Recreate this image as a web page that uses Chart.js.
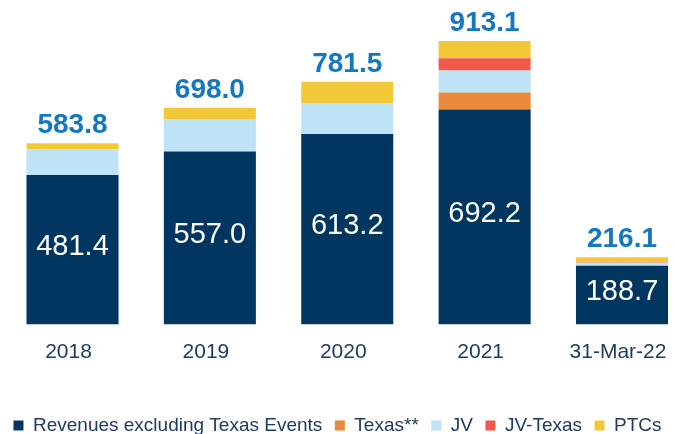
<!DOCTYPE html>
<html>
<head>
<meta charset="utf-8">
<script src="https://cdn.jsdelivr.net/npm/chart.js@4/dist/chart.umd.min.js"></script>
<style>
html,body{margin:0;padding:0;background:#fff;}
#wrap{width:675px;height:434px;position:relative;}
</style>
</head>
<body>
<div id="wrap"><canvas id="c" width="675" height="434"></canvas></div>
<script>
const categories = ['2018', '2019', '2020', '2021', '31-Mar-22'];
const revenuesExTexas = [481.4, 557.0, 613.2, 692.2, 188.7];
const texas = [0, 0, 0, 54.9, 0];
const jv = [82.4, 103.6, 98.3, 71.2, 9.8];
const jvTexas = [0, 0, 0, 38.9, 1.6];
const ptcs = [20.0, 37.4, 70.0, 55.9, 16.0];
const totals = [583.8, 698.0, 781.5, 913.1, 216.1];

const FONT = "'Liberation Sans', Arial, sans-serif";

const labelPlugin = {
  id: 'valueLabels',
  afterDatasetsDraw(chart) {
    const ctx = chart.ctx;
    const baseMeta = chart.getDatasetMeta(0);
    const y = chart.scales.y;
    ctx.save();
    ctx.textAlign = 'center';
    baseMeta.data.forEach((bar, i) => {
      ctx.fillStyle = '#ffffff';
      ctx.font = '29px ' + FONT;
      ctx.textBaseline = 'middle';
      const mid = (bar.y + bar.base) / 2 - 3;
      ctx.fillText(revenuesExTexas[i].toFixed(1), bar.x, mid);
      ctx.fillStyle = '#1477c0';
      ctx.font = 'bold 28px ' + FONT;
      ctx.textBaseline = 'alphabetic';
      ctx.fillText(totals[i].toFixed(1), bar.x, y.getPixelForValue(totals[i]) - 10);
    });
    ctx.restore();
  }
};

const legendShift = {
  id: 'legendShift',
  afterInit(chart) {
    const lg = chart.legend;
    if (!lg) return;
    const orig = lg.fit;
    lg.fit = function () {
      orig.call(this);
      this.height -= 11;
    };
  }
};

const common = { stack: 's', barPercentage: 0.67, categoryPercentage: 1.0, clip: false, borderWidth: 0 };

new Chart(document.getElementById('c'), {
  type: 'bar',
  data: {
    labels: categories,
    datasets: [
      Object.assign({ label: 'Revenues excluding Texas Events', data: revenuesExTexas, backgroundColor: '#00365f' }, common),
      Object.assign({ label: 'Texas**', data: texas, backgroundColor: '#e8893b' }, common),
      Object.assign({ label: 'JV', data: jv, backgroundColor: '#bee3f7' }, common),
      Object.assign({ label: 'JV-Texas', data: jvTexas, backgroundColor: '#f0594a' }, common),
      Object.assign({ label: 'PTCs', data: ptcs, backgroundColor: '#f2c839' }, common)
    ]
  },
  options: {
    responsive: false,
    animation: false,
    devicePixelRatio: 1,
    layout: { padding: { left: 0, right: 0, top: 14, bottom: 0 } },
    scales: {
      x: {
        offset: false,
        stacked: true,
        grid: { display: false },
        border: { display: false },
        ticks: { color: '#1f3a63', font: { family: FONT, size: 21 }, padding: 7, labelOffset: -4, maxRotation: 0, autoSkip: false },
        afterFit(scale) {
          scale.paddingLeft = 72.5;
          scale.paddingRight = 53;
          scale.height += 32;
        }
      },
      y: {
        display: false,
        stacked: true,
        min: 0,
        max: 1000
      }
    },
    plugins: {
      tooltip: { enabled: false },
      legend: {
        position: 'bottom',
        labels: {
          boxWidth: 10,
          boxHeight: 10,
          padding: 12.5,
          color: '#1f3a63',
          font: { family: FONT, size: 19 }
        }
      }
    }
  },
  plugins: [labelPlugin, legendShift]
});
</script>
</body>
</html>
